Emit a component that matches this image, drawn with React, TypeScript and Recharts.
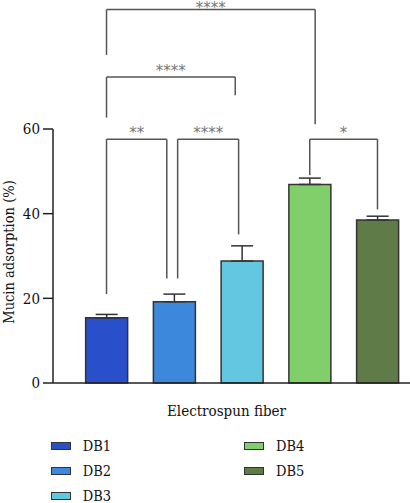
import React from 'react';
import { BarChart, Bar, XAxis, YAxis, Cell, ErrorBar, ReferenceLine, Legend } from 'recharts';

const categories = ['DB1', 'DB2', 'DB3', 'DB4', 'DB5'];
const positions = [1, 2, 3, 4, 5];
const means = [15.4, 19.2, 28.8, 46.9, 38.5];
const errors = [0.8, 1.8, 3.6, 1.5, 0.9];
const colors = ['#2a4fcb', '#3c88dc', '#63c7e1', '#80cf6b', '#5f7c48'];
const yTicks = [0, 20, 40, 60];

// significance brackets (data coordinates)
const bracketLabels = ['**', '****', '****', '****', '*'];
const bracketX1 = [1.0, 2.05, 1.0, 1.0, 4.0];
const bracketX2 = [1.89, 2.95, 2.9, 4.08, 5.0];
const bracketY = [57.6, 57.6, 72.3, 88.2, 57.6];
const bracketLeftEnd = [21.0, 24.7, 62.7, 77.5, 49.1];
const bracketRightEnd = [24.7, 35.1, 68.0, 61.1, 41.0];
const bracketLabelOffset = [1, 1, 1, -3, 1];

const data = categories.map((c, i) => ({
  name: c,
  x: positions[i],
  value: means[i],
  err: [0, errors[i]],
}));

const serif = '"DejaVu Serif Condensed", "DejaVu Serif", serif';
const axisColor = '#222';
const bracketColor = '#555';

const LegendContent = () => {
  const rows = 3;
  return (
    <div style={{ position: 'relative', height: 0, width: 410, fontFamily: serif, fontSize: 14.5, color: '#111' }}>
      {categories.map((c, i) => {
        const col = Math.floor(i / rows);
        const row = i % rows;
        return (
          <div
            key={c}
            style={{
              position: 'absolute',
              left: col === 0 ? 51 : 244.3,
              top: 4 + row * 25.1,
              height: 16,
              lineHeight: '16px',
              display: 'flex',
              alignItems: 'center',
              whiteSpace: 'nowrap',
            }}
          >
            <span
              style={{
                display: 'inline-block',
                width: 18,
                height: 5.5,
                background: colors[i],
                border: '1.2px solid #333',
                marginRight: 11.7,
              }}
            />
            <span>{c}</span>
          </div>
        );
      })}
    </div>
  );
};

export default function App() {
  return (
    <div style={{ position: 'absolute', left: 0, top: 0 }}>
      <BarChart
        width={410}
        height={503}
        data={data}
        margin={{ top: 129, right: 0, bottom: 0, left: 0 }}
      >
        <XAxis
          dataKey="x"
          type="number"
          domain={[0.21, 5.48]}
          ticks={positions}
          tick={false}
          tickSize={9}
          height={120}
          allowDataOverflow
          axisLine={{ stroke: axisColor, strokeWidth: 1.5 }}
          tickLine={{ stroke: axisColor, strokeWidth: 1.5 }}
          label={{
            value: 'Electrospun fiber',
            position: 'insideTop',
            offset: 22,
            dx: -5,
            fontFamily: serif,
            fontSize: 15,
            fill: '#111',
          }}
        />
        <YAxis
          type="number"
          domain={[0, 60]}
          ticks={yTicks}
          width={53}
          tickSize={10}
          tickMargin={3}
          interval={0}
          axisLine={{ stroke: axisColor, strokeWidth: 1.5 }}
          tickLine={{ stroke: axisColor, strokeWidth: 1.5 }}
          tick={{ fontFamily: serif, fontSize: 15, fill: '#111' }}
          label={{
            value: 'Mucin adsorption (%)',
            angle: -90,
            position: 'insideLeft',
            offset: 9,
            dy: -4,
            fontFamily: serif,
            fontSize: 14.5,
            fill: '#111',
            style: { textAnchor: 'middle' },
          }}
        />
        <Bar dataKey="value" barSize={42} stroke="#333" strokeWidth={1.5} isAnimationActive={false}>
          {data.map((d, i) => (
            <Cell key={d.name} fill={colors[i]} />
          ))}
          <ErrorBar dataKey="err" width={11} stroke="#333" strokeWidth={1.5} direction="y" isAnimationActive={false} />
        </Bar>
        {bracketLabels.map((lab, i) => (
          <ReferenceLine
            key={'h' + i}
            ifOverflow="visible"
            stroke={bracketColor}
            strokeWidth={1.5}
            segment={[
              { x: bracketX1[i], y: bracketY[i] },
              { x: bracketX2[i], y: bracketY[i] },
            ]}
            label={{
              value: lab,
              position: 'top',
              offset: bracketLabelOffset[i],
              fontFamily: 'DejaVu Sans',
              fontSize: 15,
              fill: '#777',
            }}
          />
        ))}
        {bracketLabels.map((lab, i) => (
          <ReferenceLine
            key={'l' + i}
            ifOverflow="visible"
            stroke={bracketColor}
            strokeWidth={1.5}
            segment={[
              { x: bracketX1[i], y: bracketY[i] },
              { x: bracketX1[i], y: bracketLeftEnd[i] },
            ]}
          />
        ))}
        {bracketLabels.map((lab, i) => (
          <ReferenceLine
            key={'r' + i}
            ifOverflow="visible"
            stroke={bracketColor}
            strokeWidth={1.5}
            segment={[
              { x: bracketX2[i], y: bracketY[i] },
              { x: bracketX2[i], y: bracketRightEnd[i] },
            ]}
          />
        ))}
        <Legend
          content={<LegendContent />}
          wrapperStyle={{ top: 434, left: 0, width: 410, height: 0 }}
        />
      </BarChart>
    </div>
  );
}
